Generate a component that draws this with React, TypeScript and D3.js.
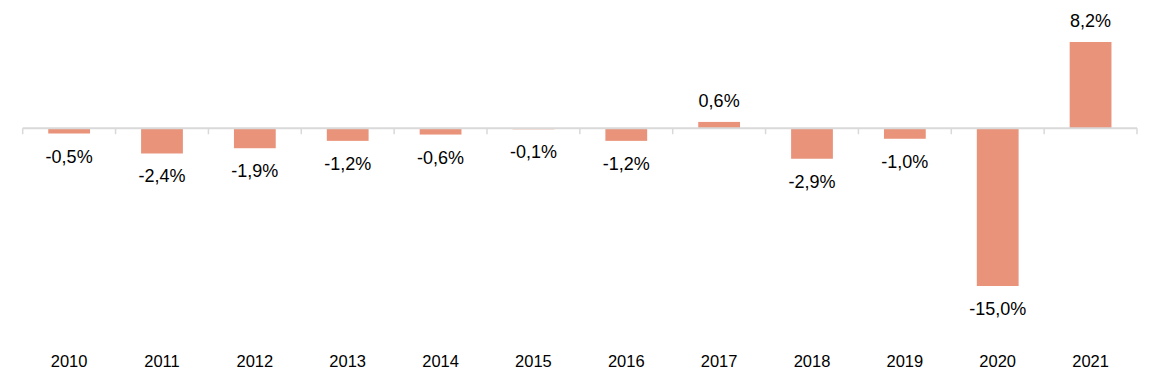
import React from 'react';
import * as d3 from 'd3';

const width = 1159;
const height = 386;

const years = ['2010', '2011', '2012', '2013', '2014', '2015', '2016', '2017', '2018', '2019', '2020', '2021'];
const values = [-0.5, -2.4, -1.9, -1.2, -0.6, -0.1, -1.2, 0.6, -2.9, -1.0, -15.0, 8.2];

const barColor = '#e9937b';
const axisColor = '#d9d9d9';
const font = 'Liberation Sans, Arial, sans-serif';

const x = d3.scaleBand<string>()
  .domain(years)
  .range([22.7, 1137])
  .paddingInner(0.55)
  .paddingOuter(0.275);

const y = d3.scaleLinear()
  .domain([-15, 8.2])
  .range([286, 42]);

// hyphen minus and decimal comma, like the original
const fmt = (v: number) => v.toFixed(1).replace('.', ',') + '%';

const App = () => {
  const y0 = y(0);
  const step = x.step();
  const x0 = x.range()[0];
  return (
    <svg width={width} height={height} style={{ position: 'absolute', left: 0, top: 0 }}>
      <rect width={width} height={height} fill="white" />
      {years.map((yr, i) => {
        const v = values[i];
        const top = Math.min(y(v), y0);
        const h = Math.abs(y(v) - y0);
        return (
          <rect key={yr} x={x(yr)} y={top} width={x.bandwidth()} height={h} fill={barColor} />
        );
      })}
      <line x1={x0} x2={x0 + step * years.length} y1={y0} y2={y0} stroke={axisColor} strokeWidth={2} />
      {d3.range(years.length + 1).map(i => (
        <line key={i} x1={x0 + i * step} x2={x0 + i * step} y1={y0} y2={y0 + 6} stroke={axisColor} strokeWidth={1.5} />
      ))}
      {years.map((yr, i) => {
        const v = values[i];
        const cx = (x(yr) as number) + x.bandwidth() / 2;
        const ly = v >= 0 ? y(v) - 15 : y(v) + 29;
        return (
          <text key={yr} x={cx} y={ly} textAnchor="middle" fontFamily={font} fontSize={18} fill="#000">
            {fmt(v)}
          </text>
        );
      })}
      {years.map(yr => (
        <text key={yr} x={(x(yr) as number) + x.bandwidth() / 2} y={367} textAnchor="middle"
          fontFamily={font} fontSize={16.5} fill="#000">
          {yr}
        </text>
      ))}
    </svg>
  );
};

export default App;
